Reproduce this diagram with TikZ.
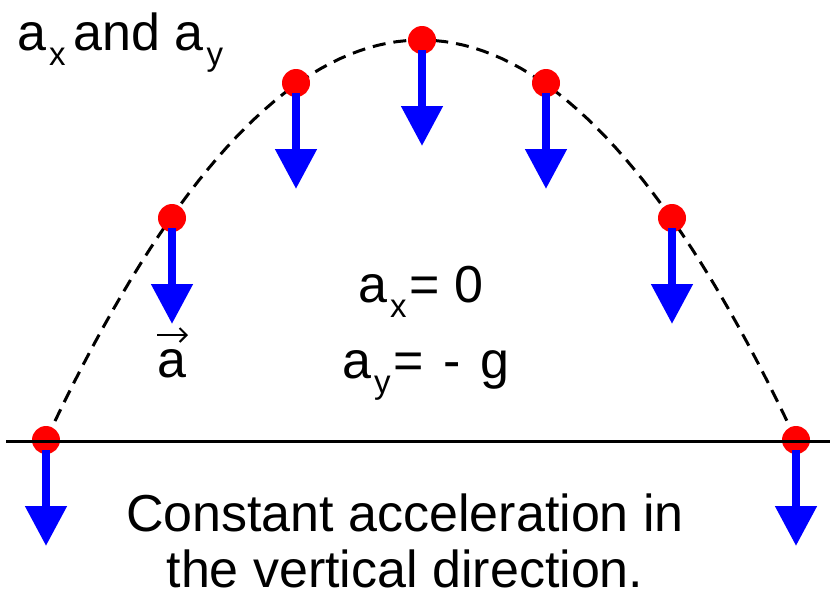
\documentclass[tikz,border=0pt]{standalone}
\usepackage{fontspec}
\setmainfont{Liberation Sans}
\usetikzlibrary{arrows.meta,positioning}
\newcommand{\lowsub}[1]{\kern3pt\raisebox{-15pt}{\fontsize{33}{33}\selectfont #1}\kern3pt}
\begin{document}
\begin{tikzpicture}[x=1pt,y=-1pt,>=Stealth,
    ball/.style={circle,fill=red,inner sep=0pt,minimum size=28pt},
    acc/.style={blue,line width=8pt,shorten <=-4pt,-{Triangle[width=40pt,length=40pt]}},
    traj/.style={dash pattern=on 13pt off 8pt,line width=3pt},
    vecarrow/.style={line width=2pt,-{Straight Barb[length=7pt,width=14pt]}},
    lbl/.style={font=\fontsize{52}{56}\selectfont,inner sep=0pt}]
  \useasboundingbox (0,0) rectangle (830,598);
  % trajectory
  \draw[traj] plot[domain=46:796,samples=80] (\x,{40+400*((\x-421)/375)^2});
  % positions and accelerations
  \foreach \n/\px/\py in {1/46/440,2/172/218,3/296/83,4/422/40,5/546/83,6/672/218,7/796/440} {
    \node[ball] (p\n) at (\px,\py) {};
    \coordinate (t\n) at (\px,\py+106);
    \draw[acc] (p\n) -- (t\n);
  }
  % ground
  \coordinate (gl) at (6,441);
  \coordinate (gr) at (830,441);
  \draw[line width=3pt] (gl) -- (gr);
  % labels
  \node[lbl,anchor=base west] (axay) at (17,50) {a\lowsub{x}\kern5pt and a\lowsub{y}};
  \node[lbl,anchor=base west] (ax) at (358,302) {a\lowsub{x}= 0};
  \node[lbl,anchor=base west] (ay) at (342,378) {a\lowsub{y}= \kern5pt- \kern5pt g};
  \node[lbl,anchor=base] (va) at (172,377) {a};
  \coordinate (vl) at (157,335);
  \coordinate (vr) at (188,335);
  \draw[vecarrow] (vl) -- (vr);
  \node[lbl,align=center] (cap) at (405,541) {Constant acceleration in\\the vertical direction.};
\end{tikzpicture}
\end{document}
